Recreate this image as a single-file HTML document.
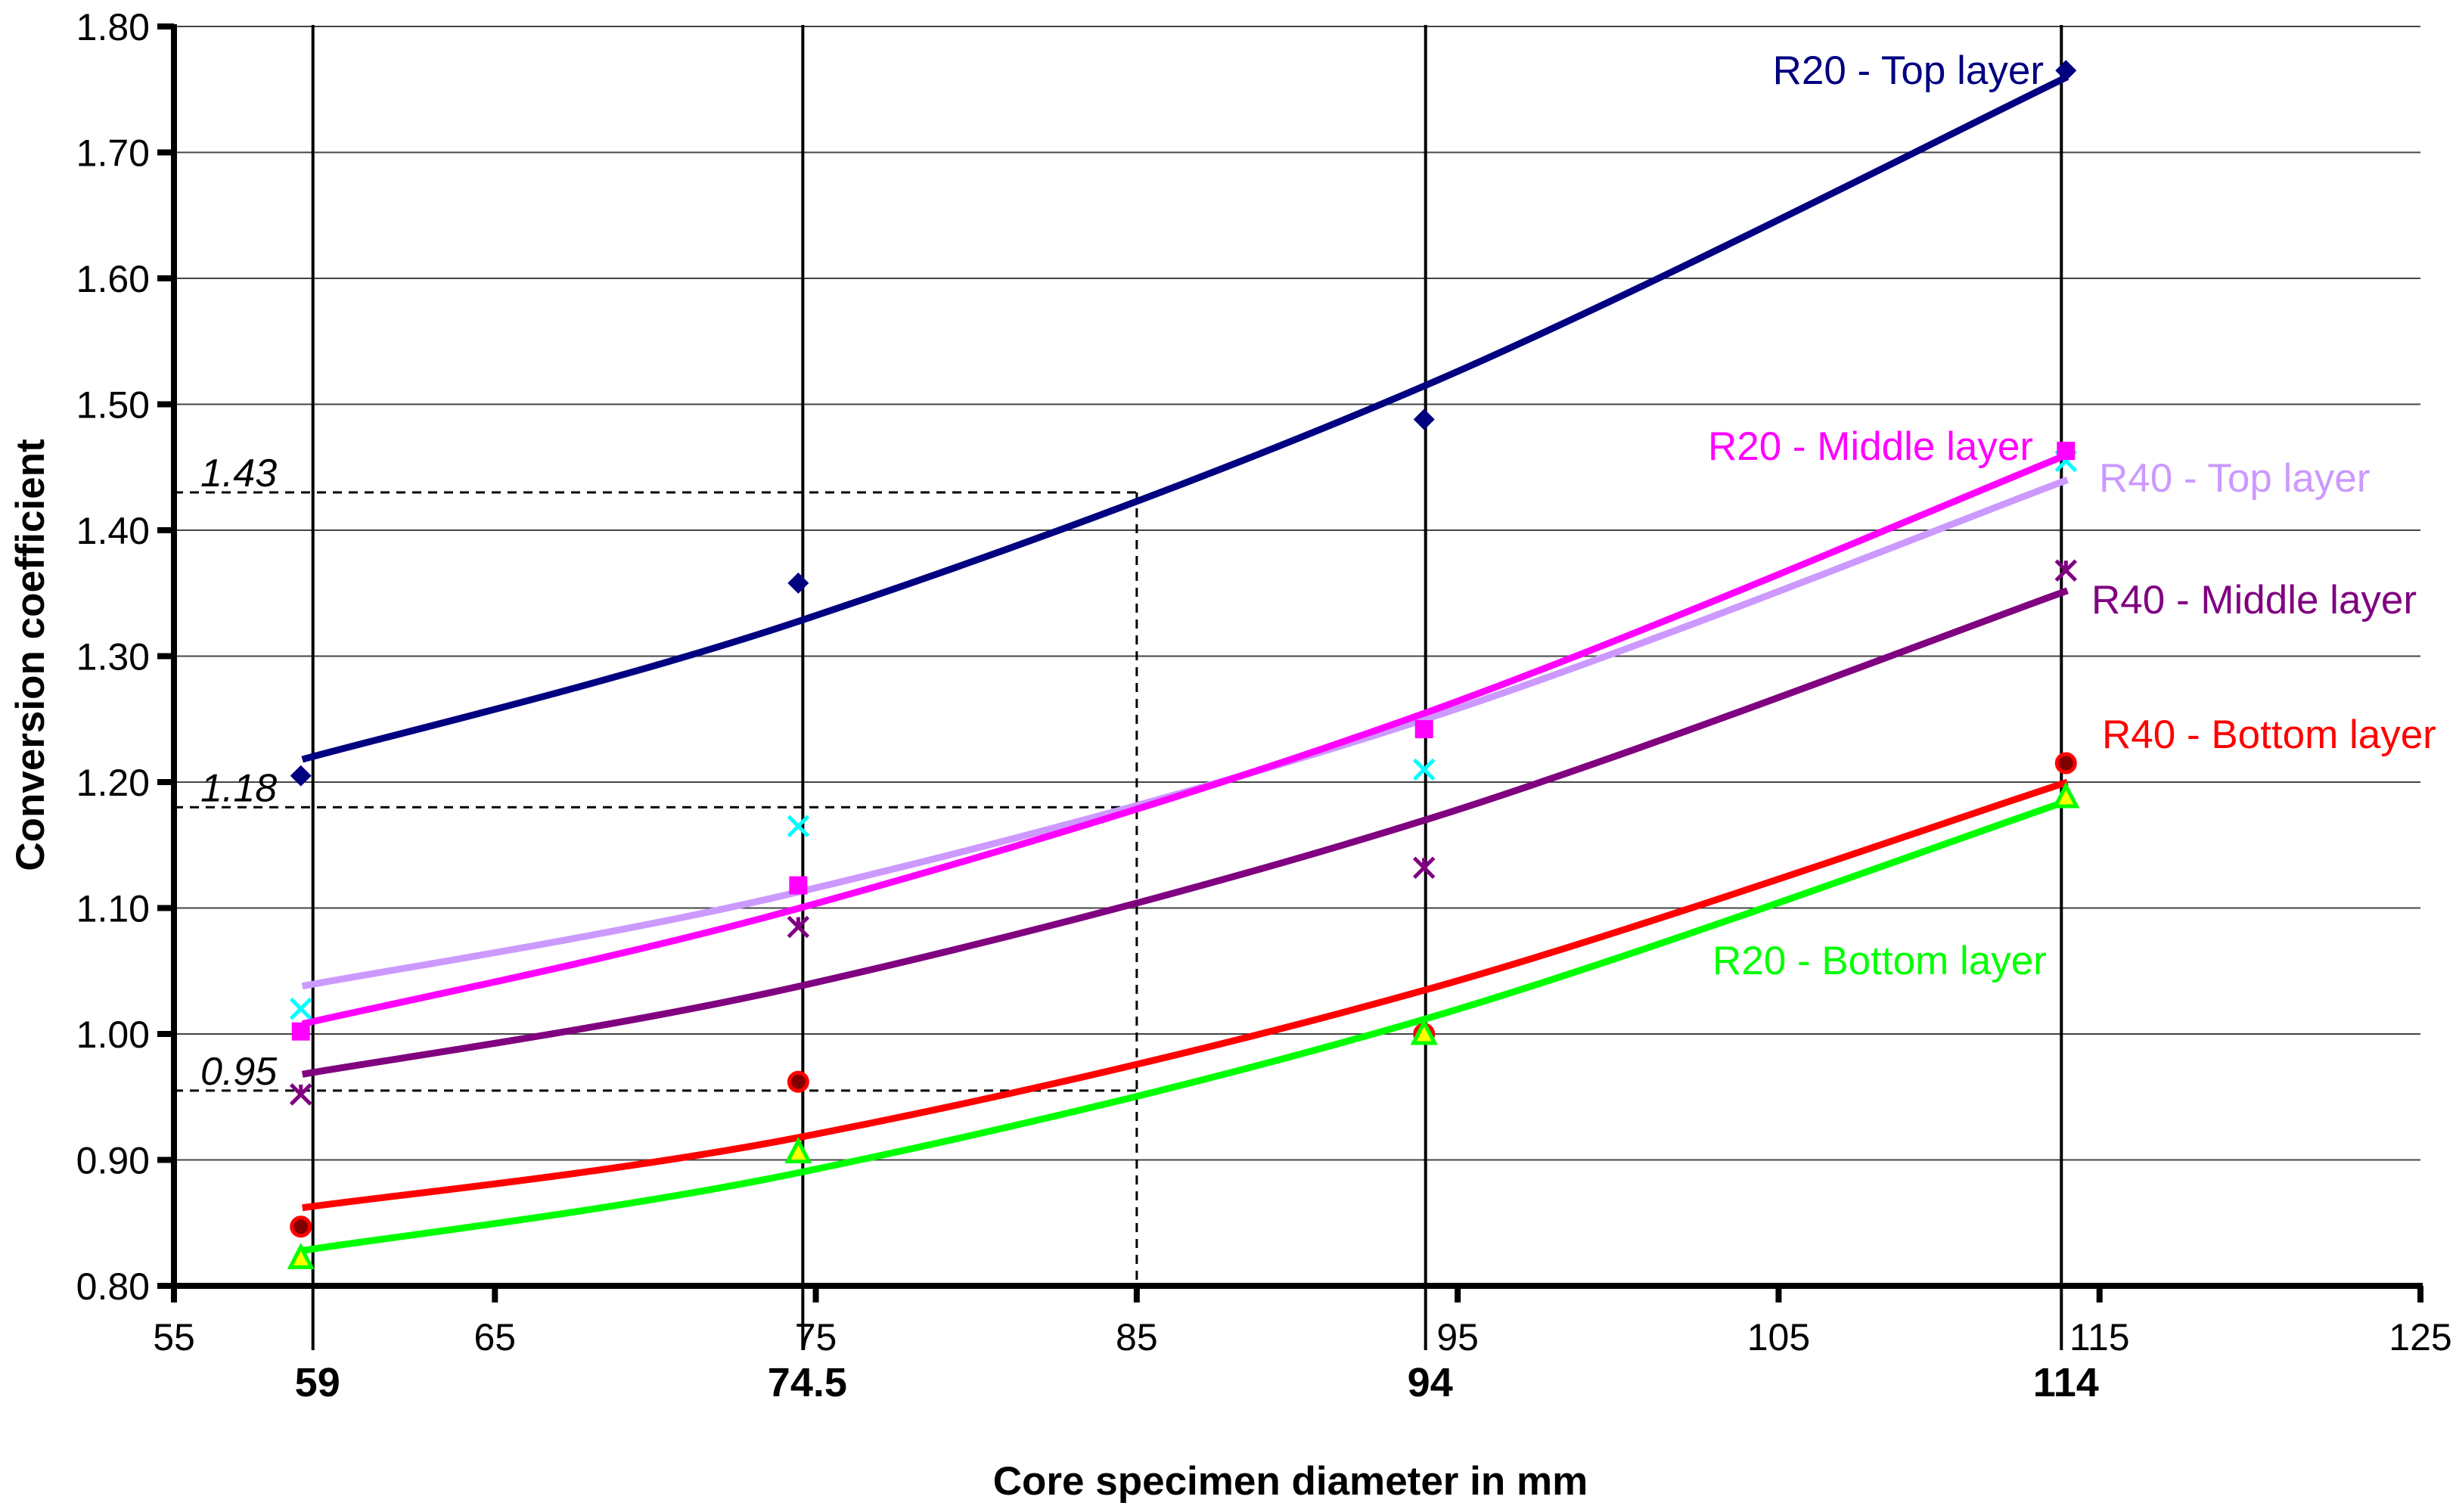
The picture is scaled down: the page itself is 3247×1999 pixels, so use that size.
<!DOCTYPE html>
<html><head><meta charset="utf-8"><style>
html,body{margin:0;padding:0;background:#fff;}
svg{display:block;font-family:"Liberation Sans",sans-serif;}
</style></head><body>
<svg id="chart" width="3247" height="1999" viewBox="0 0 3247 1999" xmlns="http://www.w3.org/2000/svg"></svg>
<script>
const xTicks = [55, 65, 75, 85, 95, 105, 115, 125];
const yTicks = [0.80, 0.90, 1.00, 1.10, 1.20, 1.30, 1.40, 1.50, 1.60, 1.70, 1.80];
const diameters = [59, 74.5, 94, 114];
const diameterLabels = ["59", "74.5", "94", "114"];
const r20TopPts = [1.205, 1.358, 1.488, 1.765];
const r20TopFit = [1.218, 1.328, 1.515, 1.760];
const r20MidPts = [1.002, 1.118, 1.242, 1.463];
const r20MidFit = [1.008, 1.100, 1.255, 1.460];
const r40TopPts = [1.020, 1.165, 1.210, 1.455];
const r40TopFit = [1.038, 1.113, 1.250, 1.440];
const r40MidPts = [0.952, 1.085, 1.132, 1.368];
const r40MidFit = [0.968, 1.038, 1.170, 1.352];
const r40BotPts = [0.847, 0.962, 1.000, 1.215];
const r40BotFit = [0.862, 0.918, 1.035, 1.200];
const r20BotPts = [0.822, 0.906, 1.000, 1.188];
const r20BotFit = [0.828, 0.890, 1.012, 1.185];
const refValues = [1.43, 1.18, 0.955];
const refLabels = ["1.43", "1.18", "0.95"];
const refX = 85;

const svg = document.getElementById('chart');
const NS = 'http://www.w3.org/2000/svg';
const X0 = 230, X1 = 3200, Y0 = 1700, Y1 = 35;
const xs = v => X0 + (v - 55) / 70 * (X1 - X0);
const ys = v => Y0 - (v - 0.8) / 1.0 * (Y0 - Y1);
const lineOffsets = [14, 4, 0, -8];
function mk(tag, attrs, parent) {
  const e = document.createElementNS(NS, tag);
  for (const k in attrs) e.setAttribute(k, attrs[k]);
  (parent || svg).appendChild(e);
  return e;
}
yTicks.forEach(v => {
  if (v === 0.8) return;
  const g = mk('line', {x1: X0, x2: X1, y1: ys(v), y2: ys(v), stroke: '#444', 'stroke-width': 2});
  
  
});
diameters.forEach((d, i) => {
  const lx = xs(d) + lineOffsets[i];
  const l = mk('line', {x1: lx, x2: lx, y1: 33, y2: 1785, stroke: '#000', 'stroke-width': 4});
  
  
  const t = mk('text', {x: lx + 6, y: 1846, 'text-anchor': 'middle', 'font-size': 54, 'font-weight': 'bold'});
  t.textContent = diameterLabels[i];
  
  
});
refValues.forEach((v, i) => {
  const l = mk('line', {x1: X0, x2: xs(refX), y1: ys(v), y2: ys(v), stroke: '#000', 'stroke-width': 3, 'stroke-dasharray': '12 9'});
  
  
  const t = mk('text', {x: 265, y: ys(v) - 8, 'font-size': 52, 'font-style': 'italic'});
  t.textContent = refLabels[i];
  
  
});
const vr = mk('line', {x1: xs(refX), x2: xs(refX), y1: ys(refValues[0]), y2: Y0, stroke: '#000', 'stroke-width': 3, 'stroke-dasharray': '12 9'});



const series = [
  {name: 'r20-top-layer', pts: r20TopPts, fit: r20TopFit, color: '#000080', marker: 'diamond', mc: '#000080'},
  {name: 'r40-top-layer', pts: r40TopPts, fit: r40TopFit, color: '#CC99FF', marker: 'x', mc: '#00FFFF'},
  {name: 'r20-middle-layer', pts: r20MidPts, fit: r20MidFit, color: '#FF00FF', marker: 'square', mc: '#FF00FF'},
  {name: 'r40-middle-layer', pts: r40MidPts, fit: r40MidFit, color: '#800080', marker: 'star', mc: '#800080'},
  {name: 'r40-bottom-layer', pts: r40BotPts, fit: r40BotFit, color: '#FF0000', marker: 'circle', mc: '#FF0000'},
  {name: 'r20-bottom-layer', pts: r20BotPts, fit: r20BotFit, color: '#00FF00', marker: 'triangle', mc: '#00FF00'}
];
function smoothPath(px, py) {
  const n = px.length;
  let d = 'M' + px[0] + ',' + py[0];
  for (let i = 0; i < n - 1; i++) {
    const p0x = px[Math.max(i - 1, 0)], p0y = py[Math.max(i - 1, 0)];
    const p3x = px[Math.min(i + 2, n - 1)], p3y = py[Math.min(i + 2, n - 1)];
    const c1x = px[i] + (px[i + 1] - p0x) / 6, c1y = py[i] + (py[i + 1] - p0y) / 6;
    const c2x = px[i + 1] - (p3x - px[i]) / 6, c2y = py[i + 1] - (p3y - py[i]) / 6;
    d += ' C' + c1x + ',' + c1y + ' ' + c2x + ',' + c2y + ' ' + px[i + 1] + ',' + py[i + 1];
  }
  return d;
}
series.forEach(s => {
  const p = mk('path', {d: smoothPath(diameters.map(xs), s.fit.map(ys)), fill: 'none', stroke: s.color, 'stroke-width': 9});
  
  
});
series.forEach(s => {
  s.pts.forEach((v, i) => {
    const cx = xs(diameters[i]) - 2, cy = ys(v);
    let m;
    if (s.marker === 'diamond') m = mk('polygon', {points: `${cx},${cy-14} ${cx+14},${cy} ${cx},${cy+14} ${cx-14},${cy}`, fill: s.mc});
    else if (s.marker === 'square') m = mk('rect', {x: cx - 12, y: cy - 12, width: 24, height: 24, fill: s.mc});
    else if (s.marker === 'circle') m = mk('circle', {cx: cx, cy: cy, r: 12, fill: '#800000', stroke: s.mc, 'stroke-width': 5});
    else if (s.marker === 'triangle') m = mk('polygon', {points: `${cx},${cy-15} ${cx+14},${cy+12} ${cx-14},${cy+12}`, fill: '#FFFF00', stroke: s.mc, 'stroke-width': 5});
    else if (s.marker === 'x') m = mk('path', {d: `M${cx-13},${cy-13}L${cx+13},${cy+13}M${cx+13},${cy-13}L${cx-13},${cy+13}`, stroke: s.mc, 'stroke-width': 5});
    else m = mk('path', {d: `M${cx-13},${cy-13}L${cx+13},${cy+13}M${cx+13},${cy-13}L${cx-13},${cy+13}M${cx},${cy-13}L${cx},${cy}`, stroke: s.mc, 'stroke-width': 5});
    
    
  });
});
const ax = mk('line', {x1: X0, x2: X0, y1: Y1 - 3, y2: Y0 + 3, stroke: '#000', 'stroke-width': 8});


const axx = mk('line', {x1: X0 - 3, x2: X1 + 3, y1: Y0, y2: Y0, stroke: '#000', 'stroke-width': 8});


yTicks.forEach(v => {
  const t = mk('line', {x1: X0 - 22, x2: X0, y1: ys(v), y2: ys(v), stroke: '#000', 'stroke-width': 8});
  
  
  const l = mk('text', {x: X0 - 32, y: ys(v) + 18, 'text-anchor': 'end', 'font-size': 50});
  l.textContent = v.toFixed(2);
  
  
});
xTicks.forEach(v => {
  const t = mk('line', {x1: xs(v), x2: xs(v), y1: Y0, y2: Y0 + 22, stroke: '#000', 'stroke-width': 8});
  
  
  const l = mk('text', {x: xs(v), y: 1785, 'text-anchor': 'middle', 'font-size': 50});
  l.textContent = v;
  
  
});
const xt = mk('text', {x: 1706, y: 1976, 'text-anchor': 'middle', 'font-size': 53, 'font-weight': 'bold'});
xt.textContent = 'Core specimen diameter in mm';


const yt = mk('text', {x: 0, y: 0, 'text-anchor': 'middle', 'font-size': 53, 'font-weight': 'bold', transform: 'translate(58,866) rotate(-90)'});
yt.textContent = 'Conversion coefficient';


const labels = [
  ['R20 - Top layer', '#000080', 2702, 111, 'end', 'label-r20-top-layer'],
  ['R20 - Middle layer', '#FF00FF', 2688, 608, 'end', 'label-r20-middle-layer'],
  ['R40 - Top layer', '#CC99FF', 2775, 650, 'start', 'label-r40-top-layer'],
  ['R40 - Middle layer', '#800080', 2765, 811, 'start', 'label-r40-middle-layer'],
  ['R40 - Bottom layer', '#FF0000', 2779, 989, 'start', 'label-r40-bottom-layer'],
  ['R20 - Bottom layer', '#00FF00', 2264, 1288, 'start', 'label-r20-bottom-layer']
];
labels.forEach(L => {
  const t = mk('text', {x: L[2], y: L[3], fill: L[1], 'font-size': 53, 'text-anchor': L[4]});
  t.textContent = L[0];
  
  
});
</script>
</body></html>
